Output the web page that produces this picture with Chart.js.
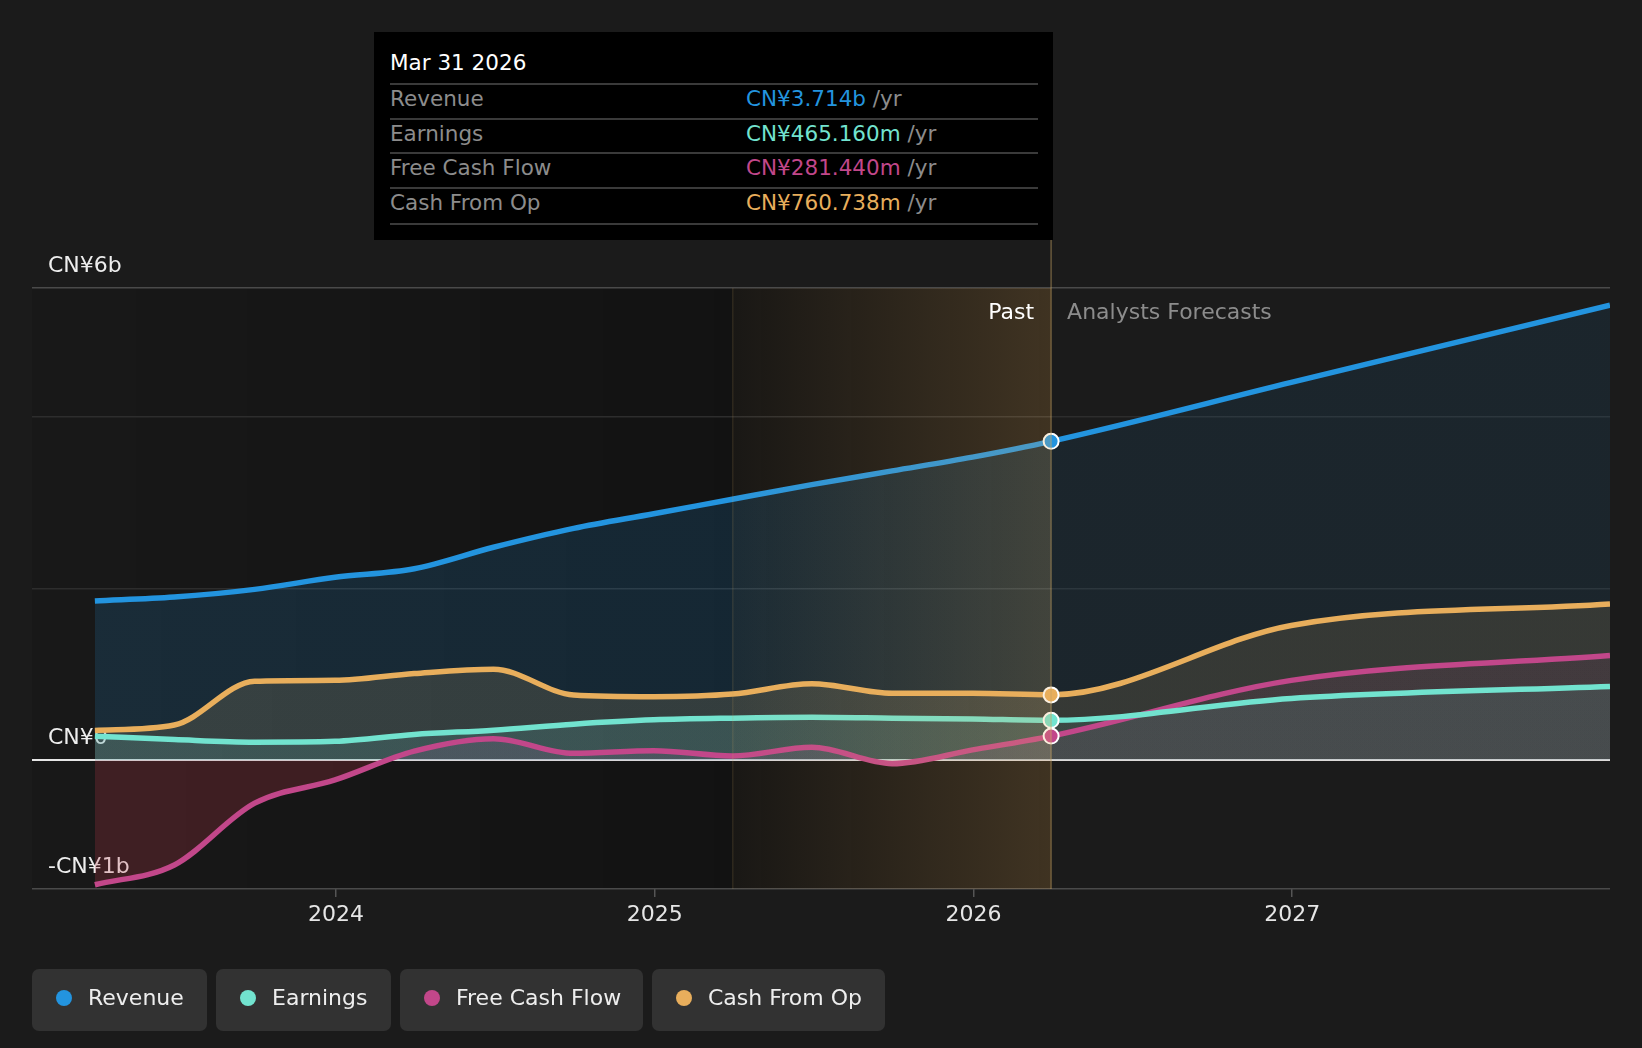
<!DOCTYPE html>
<html>
<head>
<meta charset="utf-8">
<script src="https://cdn.jsdelivr.net/npm/chart.js@4.4.0/dist/chart.umd.min.js"></script>
<style>
    html, body { margin: 0; padding: 0; background: #1b1b1b; }
    #wrap { position: relative; width: 1642px; height: 1048px; font-family: "DejaVu Sans", sans-serif; overflow: hidden; }
    #chart { position: absolute; left: 0; top: 0; }
    #tip { position: absolute; left: 374px; top: 32px; width: 679px; height: 208px; background: #000; box-sizing: border-box; padding: 0 15px 0 16px; font-size: 21.5px; }
    #tip .head { height: 51px; box-sizing: border-box; padding-top: 19px; line-height: 24px; color: #fff; }
    #tip .row { display: flex; align-items: center; height: 34.5px; border-top: 2px solid #3a3a3a; box-sizing: border-box; padding-bottom: 5px; color: #8c8c8c; }
    #tip .row:last-child { border-bottom: 2px solid #3a3a3a; height: 38px; padding-bottom: 6px; }
    #tip .lbl { width: 356px; }
    #legend { position: absolute; left: 32px; top: 969px; display: flex; gap: 9px; }
    #legend .item { height: 62px; border-radius: 7px; background: #323232; display: flex; align-items: center; box-sizing: border-box; padding-left: 24px; padding-bottom: 5px; color: #eeeeee; font-size: 22px; }
    #legend .dot { width: 16px; height: 16px; border-radius: 50%; margin-right: 16px; }
</style>
</head>
<body>
<div id="wrap">
    <canvas id="chart" width="1642" height="1048"></canvas>
    <div id="tip"></div>
    <div id="legend"></div>
</div>
<script>
// quarter ends (trailing twelve months), then analyst forecasts
var periods = ['2023-03-31', '2023-06-30', '2023-09-30', '2023-12-31', '2024-03-31', '2024-06-30',
               '2024-09-30', '2024-12-31', '2025-03-31', '2025-06-30', '2025-09-30', '2025-12-31',
               '2026-03-31', '2026-12-31', '2027-12-31'];

// CN¥ billions
var revenue  = [1.855, 1.90, 1.99, 2.13, 2.23, 2.48, 2.70, 2.87, 3.04, 3.21, 3.37, 3.53, 3.714, 4.40, 5.30];
var earnings = [0.28, 0.24, 0.21, 0.22, 0.30, 0.35, 0.42, 0.47, 0.49, 0.50, 0.49, 0.48, 0.465, 0.72, 0.86];
var fcf      = [-1.45, -1.22, -0.50, -0.23, 0.105, 0.25, 0.08, 0.11, 0.05, 0.15, -0.04, 0.12, 0.281, 0.93, 1.22];
var cfo      = [0.347, 0.41, 0.92, 0.93, 1.01, 1.06, 0.76, 0.74, 0.77, 0.89, 0.78, 0.78, 0.761, 1.57, 1.82];

var yTicks = [-1.5, 0, 2, 4, 5.5];
var yTickLabels = { '-1.5': '-CN¥1b', '0': 'CN¥0', '5.5': 'CN¥6b' };
var xTicks = [2024, 2025, 2026, 2027];

var axisStart = '2023-01-18';
var bandStart = '2025-03-31';
var presentIdx = 12;

var tooltipTitle = 'Mar 31 2026';
var tooltipRows = [
    ['Revenue', 'CN¥3.714b'],
    ['Earnings', 'CN¥465.160m'],
    ['Free Cash Flow', 'CN¥281.440m'],
    ['Cash From Op', 'CN¥760.738m'],
];

var COLORS = {
    revenue:  '#2394df',
    earnings: '#72e3cf',
    fcf:      '#c2478a',
    cfo:      '#e8ae5c',
};

function toYear(s) {
    var p = s.split('-');
    var y = +p[0];
    var d = Date.UTC(y, +p[1] - 1, +p[2]);
    var a = Date.UTC(y, 0, 1), b = Date.UTC(y + 1, 0, 1);
    return y + (d - a) / (b - a);
}

var presentX = toYear(periods[presentIdx]);

function points(values) {
    return periods.map(function (p, i) { return { x: toYear(p), y: values[i] }; });
}

// fill is stronger on the past side of "today" than on the forecast side
function splitFill(past, future) {
    return function (ctx) {
        var chart = ctx.chart, a = chart.chartArea;
        if (!a || !chart.scales.x) return past;
        var t = (chart.scales.x.getPixelForValue(presentX) - a.left) / (a.right - a.left);
        t = Math.max(0, Math.min(1, t));
        var g = chart.ctx.createLinearGradient(a.left, 0, a.right, 0);
        g.addColorStop(0, past);
        g.addColorStop(t, past);
        g.addColorStop(t, future);
        g.addColorStop(1, future);
        return g;
    };
}

function series(label, values, color, fillAbove, fillBelow) {
    return {
        label: label,
        data: points(values),
        borderColor: color,
        borderWidth: 5.5,
        cubicInterpolationMode: 'monotone',
        fill: { target: 'origin', above: fillAbove, below: fillBelow || fillAbove },
        pointRadius: function (ctx) { return ctx.dataIndex === presentIdx ? 7.5 : 0; },
        pointBackgroundColor: color,
        pointBorderColor: '#ffffff',
        pointBorderWidth: 2,
    };
}

var pastPlugin = {
    id: 'pastShade',
    beforeDraw: function (chart) {
        var a = chart.chartArea, xs = chart.scales.x, c = chart.ctx;
        var bx = xs.getPixelForValue(toYear(bandStart));
        var px = xs.getPixelForValue(presentX);
        var g = c.createLinearGradient(a.left, 0, bx, 0);
        g.addColorStop(0, 'rgba(0,0,0,0.08)');
        g.addColorStop(1, 'rgba(0,0,0,0.3)');
        c.save();
        c.fillStyle = g;
        c.fillRect(a.left, a.top, bx - a.left, a.bottom - a.top);
        c.fillStyle = 'rgba(0,0,0,0.3)';
        c.fillRect(bx, a.top, px - bx, a.bottom - a.top);
        c.restore();
    },
    afterDatasetsDraw: function (chart) {
        var a = chart.chartArea, xs = chart.scales.x, c = chart.ctx;
        var bx = xs.getPixelForValue(toYear(bandStart));
        var px = xs.getPixelForValue(presentX);
        c.save();
        var g = c.createLinearGradient(bx, 0, px, 0);
        g.addColorStop(0, 'rgba(232,174,92,0.03)');
        g.addColorStop(1, 'rgba(232,174,92,0.21)');
        c.fillStyle = g;
        c.fillRect(bx, a.top, px - bx, a.bottom - a.top);

        c.lineWidth = 1;
        c.strokeStyle = 'rgba(200,160,90,0.2)';
        c.beginPath();
        c.moveTo(bx + 0.5, a.top);
        c.lineTo(bx + 0.5, a.bottom);
        c.stroke();

        c.lineWidth = 1.5;
        c.strokeStyle = 'rgba(200,165,100,0.45)';
        c.beginPath();
        c.moveTo(px, 240);
        c.lineTo(px, a.bottom);
        c.stroke();

        c.font = '22px "DejaVu Sans"';
        c.textBaseline = 'middle';
        c.textAlign = 'right';
        c.fillStyle = '#ffffff';
        c.fillText('Past', px - 17, a.top + 25);
        c.textAlign = 'left';
        c.fillStyle = '#8c8c8c';
        c.fillText('Analysts Forecasts', px + 16, a.top + 25);
        c.restore();
    },
};

new Chart(document.getElementById('chart'), {
    type: 'line',
    data: {
        datasets: [
            series('Revenue', revenue, COLORS.revenue,
                splitFill('rgba(35,148,223,0.16)', 'rgba(35,148,223,0.09)')),
            series('Earnings', earnings, COLORS.earnings,
                splitFill('rgba(114,227,207,0.14)', 'rgba(114,227,207,0.10)')),
            series('Free Cash Flow', fcf, COLORS.fcf,
                splitFill('rgba(194,71,138,0.16)', 'rgba(194,71,138,0.10)'), 'rgba(190,55,70,0.24)'),
            series('Cash From Op', cfo, COLORS.cfo,
                splitFill('rgba(232,174,92,0.17)', 'rgba(232,174,92,0.14)')),
        ],
    },
    options: {
        responsive: false,
        animation: false,
        devicePixelRatio: 1,
        events: [],
        layout: { padding: { left: 32, right: 32, top: 288, bottom: 119 } },
        plugins: {
            legend: { display: false },
            tooltip: { enabled: false },
            filler: { drawTime: 'beforeDatasetsDraw' },
        },
        scales: {
            x: {
                type: 'linear',
                min: toYear(axisStart),
                max: toYear(periods[periods.length - 1]),
                afterBuildTicks: function (s) { s.ticks = xTicks.map(function (v) { return { value: v }; }); },
                afterFit: function (s) { s.height = 40; },
                border: { display: false },
                grid: { drawOnChartArea: false, drawTicks: true, tickLength: 8, color: '#555555', lineWidth: 1.5 },
                ticks: {
                    color: '#e6e6e6',
                    font: { family: 'DejaVu Sans', size: 22 },
                    padding: 5,
                    maxRotation: 0,
                    callback: function (v) { return String(v); },
                },
            },
            y: {
                min: -1.5,
                max: 5.5,
                afterBuildTicks: function (s) { s.ticks = yTicks.map(function (v) { return { value: v }; }); },
                afterFit: function (s) { s.width = 0; },
                border: { display: false },
                grid: {
                    drawTicks: false,
                    color: function (ctx) {
                        var v = ctx.tick.value;
                        if (v === 0) return '#e6e6e6';
                        if (v === 5.5 || v === -1.5) return '#4a4a4a';
                        return '#2d2d2d';
                    },
                    lineWidth: function (ctx) { return ctx.tick.value === 0 ? 2 : 1.5; },
                },
                ticks: {
                    mirror: true,
                    padding: 16,
                    labelOffset: -22,
                    color: '#eeeeee',
                    font: { family: 'DejaVu Sans', size: 22 },
                    callback: function (v) { return yTickLabels[String(v)] || ''; },
                },
            },
        },
    },
    plugins: [pastPlugin],
});

// hover card for the present point
var colorsByRow = [COLORS.revenue, COLORS.earnings, COLORS.fcf, COLORS.cfo];
var tip = document.getElementById('tip');
var html = '<div class="head">' + tooltipTitle + '</div>';
tooltipRows.forEach(function (r, i) {
    html += '<div class="row"><span class="lbl">' + r[0] + '</span><span><span style="color:' +
        colorsByRow[i] + '">' + r[1] + '</span> /yr</span></div>';
});
tip.innerHTML = html;

var legendWidths = [175, 175, 243, 233];
var legend = document.getElementById('legend');
['Revenue', 'Earnings', 'Free Cash Flow', 'Cash From Op'].forEach(function (name, i) {
    var el = document.createElement('div');
    el.className = 'item';
    el.style.width = legendWidths[i] + 'px';
    el.innerHTML = '<span class="dot" style="background:' + colorsByRow[i] + '"></span>' + name;
    legend.appendChild(el);
});
</script>
</body>
</html>
